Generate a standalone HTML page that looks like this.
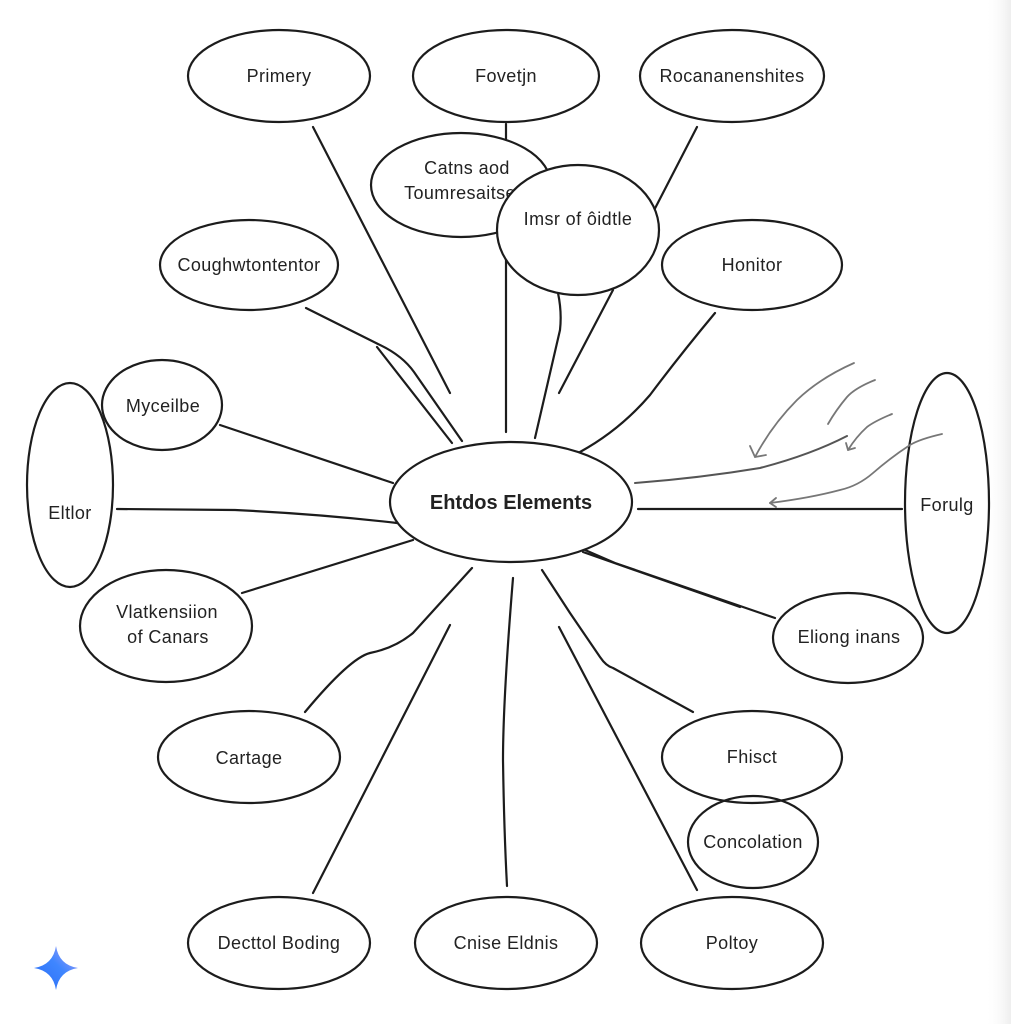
<!DOCTYPE html>
<html>
<head>
<meta charset="utf-8">
<style>
  html,body{margin:0;padding:0;background:#fff;}
  body{width:1011px;height:1024px;overflow:hidden;}
  svg{display:block;}
  text{font-family:"Liberation Sans",Arial,sans-serif;fill:#222;}
</style>
</head>
<body>
<svg width="1011" height="1024" viewBox="0 0 1011 1024" xmlns="http://www.w3.org/2000/svg">
  <defs>
    <linearGradient id="sp" x1="0" y1="1" x2="1" y2="0">
      <stop offset="0" stop-color="#2a6cf5"/>
      <stop offset="0.55" stop-color="#3f86ff"/>
      <stop offset="1" stop-color="#b7a3f5"/>
    </linearGradient>
    <linearGradient id="edge" x1="0" y1="0" x2="1" y2="0">
      <stop offset="0" stop-color="#ffffff" stop-opacity="0"/>
      <stop offset="1" stop-color="#eeeeee" stop-opacity="1"/>
    </linearGradient>
  </defs>
  <rect x="0" y="0" width="1011" height="1024" fill="#fff"/>
  <rect x="985" y="0" width="26" height="1024" fill="url(#edge)"/>

  <!-- connectors -->
  <g fill="none" stroke="#1c1c1c" stroke-width="2.2" stroke-linecap="round" stroke-linejoin="round">
    <path d="M313 127 L450 393"/>
    <path d="M506 124 L506 432"/>
    <path d="M697 127 L648 222"/>
    <path d="M558 293 Q562 312 560 330 L535 438"/>
    <path d="M613 290 L559 393"/>
    <path d="M715 313 Q680 355 650 395 Q620 430 580 452"/>
    <path d="M306 308 L378 344 Q402 355 414 372 L462 441"/>
    <path d="M377 347 L452 443"/>
    <path d="M220 425 L393 483"/>
    <path d="M117 509 L235 510 Q320 514 397 523"/>
    <path d="M242 593 L413 540"/>
    <path d="M638 509 L902 509"/>
    <path d="M583 552 L740 607"/>
    <path d="M585 550 L615 563 L775 618"/>
    <path d="M472 568 L413 633 Q395 648 370 653 Q350 658 305 712"/>
    <path d="M450 625 L313 893"/>
    <path d="M513 578 Q503 700 503 760 Q504 830 507 886"/>
    <path d="M542 570 L570 613 L600 657 Q606 666 613 668 L693 712"/>
    <path d="M559 627 L697 890"/>
  </g>

  <!-- nodes -->
  <g stroke="#1c1c1c" stroke-width="2.2" fill="#fff">
    <ellipse cx="279" cy="76" rx="91" ry="46"/>
    <ellipse cx="506" cy="76" rx="93" ry="46"/>
    <ellipse cx="732" cy="76" rx="92" ry="46"/>
    <ellipse cx="461" cy="185" rx="90" ry="52"/>
  </g>
  <text x="467" y="174" font-size="18" letter-spacing="0.4" text-anchor="middle">Catns aod</text>
  <text x="460" y="199" font-size="18" letter-spacing="0.4" text-anchor="middle">Toumresaitse</text>
  <g stroke="#1c1c1c" stroke-width="2.2" fill="#fff">
    <ellipse cx="578" cy="230" rx="81" ry="65"/>
    <ellipse cx="249" cy="265" rx="89" ry="45"/>
    <ellipse cx="752" cy="265" rx="90" ry="45"/>
    <ellipse cx="511" cy="502" rx="121" ry="60"/>
    <ellipse cx="848" cy="638" rx="75" ry="45"/>
    <ellipse cx="166" cy="626" rx="86" ry="56"/>
    <ellipse cx="249" cy="757" rx="91" ry="46"/>
    <ellipse cx="752" cy="757" rx="90" ry="46"/>
    <ellipse cx="279" cy="943" rx="91" ry="46"/>
    <ellipse cx="506" cy="943" rx="91" ry="46"/>
    <ellipse cx="732" cy="943" rx="91" ry="46"/>
  </g>
  <g stroke="#1c1c1c" stroke-width="2.2" fill="none">
    <ellipse cx="70" cy="485" rx="43" ry="102"/>
    <ellipse cx="162" cy="405" rx="60" ry="45"/>
    <ellipse cx="947" cy="503" rx="42" ry="130"/>
    <ellipse cx="753" cy="842" rx="65" ry="46"/>
  </g>

  <!-- gray arrows -->
  <g fill="none" stroke="#777" stroke-width="1.8" stroke-linecap="round" stroke-linejoin="round">
    <path d="M635 483 Q700 478 760 468 Q810 455 847 436" stroke="#555" stroke-width="2"/>
    <path d="M854 363 Q820 378 797 400 Q772 425 755 457"/>
    <path d="M750 446 L755 457 L766 455"/>
    <path d="M875 380 Q855 388 847 397 Q836 410 828 424"/>
    <path d="M892 414 Q875 421 867 427 Q856 437 848 450"/>
    <path d="M846 443 L848 450 L855 448"/>
    <path d="M942 434 Q920 439 910 445 Q890 458 873 473 Q858 486 840 490 Q810 498 770 503"/>
    <path d="M776 498 L770 503 L776 507"/>
  </g>

  <!-- labels -->
  <g font-size="18" letter-spacing="0.4" text-anchor="middle">
    <text x="279" y="82">Primery</text>
    <text x="506" y="82">Fovetjn</text>
    <text x="732" y="82">Rocananenshites</text>
    <text x="578" y="225">Imsr of ôidtle</text>
    <text x="249" y="271">Coughwtontentor</text>
    <text x="752" y="271">Honitor</text>
    <text x="163" y="412">Myceilbe</text>
    <text x="70" y="519">Eltlor</text>
    <text x="167" y="618">Vlatkensiion</text>
    <text x="168" y="643">of Canars</text>
    <text x="947" y="511">Forulg</text>
    <text x="849" y="643">Eliong inans</text>
    <text x="249" y="764">Cartage</text>
    <text x="752" y="763">Fhisct</text>
    <text x="753" y="848">Concolation</text>
    <text x="279" y="949">Decttol Boding</text>
    <text x="506" y="949">Cnise Eldnis</text>
    <text x="732" y="949">Poltoy</text>
  </g>
  <text x="511" y="509" font-size="20" font-weight="bold" text-anchor="middle" fill="#1a1a1a">Ehtdos Elements</text>

  <!-- sparkle -->
  <path d="M56 946 Q59 965 78 968 Q59 971 56 990 Q53 971 34 968 Q53 965 56 946 Z" fill="url(#sp)"/>
</svg>
</body>
</html>
